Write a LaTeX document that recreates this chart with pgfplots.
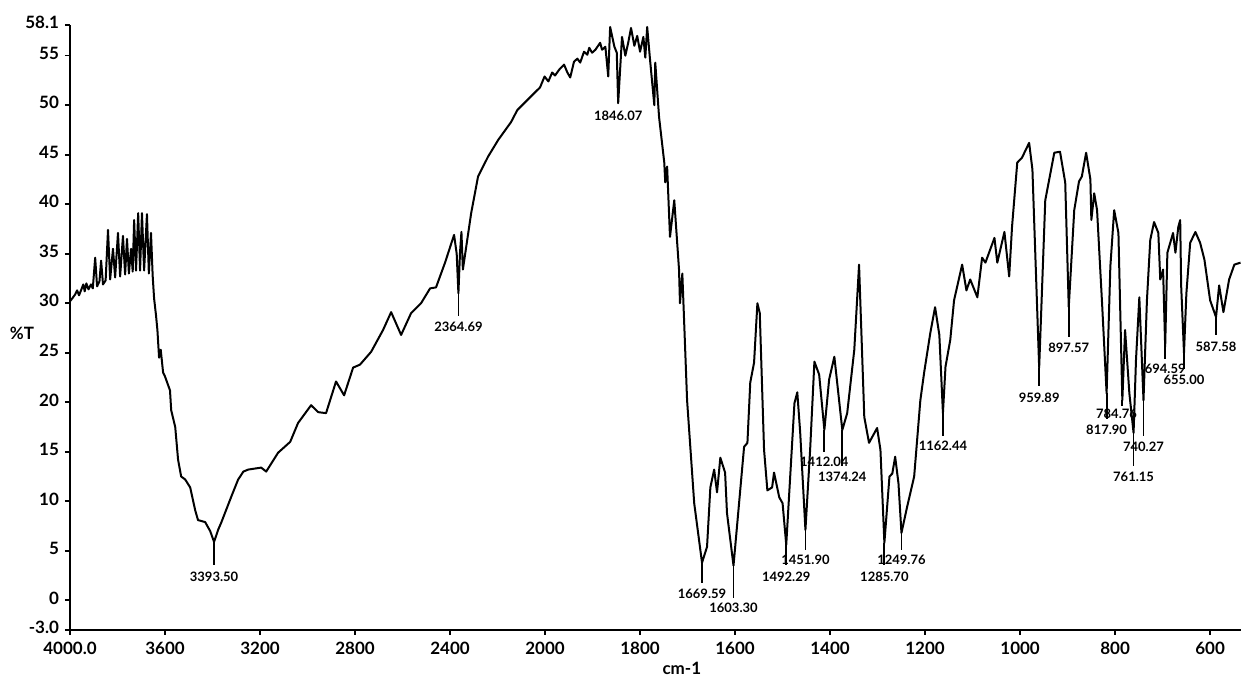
\documentclass[border=0pt]{standalone}
\usepackage{fontspec}
\setmainfont{Lato}
\usepackage{pgfplots}
\usepackage{pgfplotstable}
\pgfplotsset{compat=1.18}
\tikzset{lbl/.style={font=\bfseries\fontsize{6.5}{7}\selectfont, inner sep=0pt}}

\pgfplotstableread{
wn T
4000 30.2
3990 30.5
3978 30.9
3970 31.3
3962 30.8
3952 31.4
3944 31.9
3938 31.2
3931 32.0
3922 31.4
3912 31.9
3904 31.5
3894 34.6
3886 31.7
3876 32.2
3869 34.3
3861 31.9
3850 32.3
3840 37.4
3831 32.4
3819 35.5
3810 32.6
3798 37.1
3789 32.7
3777 36.8
3768 32.9
3760 36.5
3752 33.0
3743 35.5
3736 33.2
3730 38.4
3722 33.3
3713 39.1
3705 33.3
3697 39.1
3688 33.3
3676 39.0
3668 33.0
3659 37.1
3652 32.8
3646 30.5
3638 28.8
3632 27.3
3625 24.5
3618 25.3
3608 23.0
3600 22.6
3579 21.2
3574 19.2
3557 17.5
3545 14.2
3532 12.5
3515 12.2
3494 11.4
3473 9.1
3461 8.1
3431 7.9
3410 7.0
3393.5 5.9
3375 7.2
3364 7.8
3322 10.4
3292 12.2
3270 13.0
3250 13.2
3195 13.4
3174 13.0
3124 14.9
3073 16.0
3040 17.9
2985 19.7
2955 19.0
2922 18.9
2880 22.1
2846 20.7
2808 23.5
2779 23.8
2732 25.1
2682 27.3
2648 29.1
2606 26.8
2564 29.0
2522 30.0
2484 31.5
2459 31.6
2421 34.1
2383 36.9
2372 35.0
2364.69 31.0
2358 35.1
2352 37.2
2346 33.4
2311 39.1
2282 42.8
2240 44.8
2197 46.5
2143 48.3
2117 49.5
2063 50.8
2021 51.8
2002 52.9
1993 52.4
1985 53.3
1979 53.0
1970 53.6
1960 54.1
1953 53.3
1947 52.8
1939 54.4
1932 54.7
1926 54.3
1918 55.4
1911 55.1
1907 55.8
1901 55.3
1894 55.6
1884 56.3
1880 55.6
1873 55.9
1867 52.9
1863 57.9
1854 55.9
1849 55.3
1846.07 50.2
1838 56.9
1831 55.0
1825 56.3
1819 57.8
1812 56.0
1806 57.0
1800 55.4
1793 56.9
1789 54.8
1785 57.9
1779 54.6
1770 50.0
1768 54.3
1760 48.8
1749 44.2
1747 42.2
1743 43.8
1737 36.7
1728 40.4
1718 33.4
1716 30.0
1711 33.0
1701 20.2
1686 9.8
1669.59 3.8
1659 5.4
1652 11.4
1644 13.2
1638 10.9
1631 14.4
1621 12.9
1617 8.8
1603.3 3.5
1581 15.5
1574 15.9
1568 22.0
1560 24.0
1553 30.0
1548 29.0
1539 15.2
1532 11.1
1522 11.4
1518 12.9
1507 10.4
1500 9.8
1492.29 5.6
1475 19.9
1469 21.0
1463 17.0
1451.9 7.1
1442 15.2
1433 24.1
1423 22.8
1412.04 17.2
1402 22.3
1391 24.6
1374.24 17.2
1364 18.9
1349 25.3
1339 33.9
1328 18.5
1318 15.9
1301 17.4
1294 15.2
1285.7 5.8
1275 12.5
1269 12.8
1263 14.5
1256 11.8
1249.76 6.8
1238 9.4
1223 12.5
1210 20.2
1202 23.0
1189 27.0
1179 29.6
1170 26.8
1162.44 18.9
1157 23.6
1147 26.3
1139 30.3
1122 33.9
1113 31.3
1105 32.4
1090 30.6
1080 34.6
1073 34.1
1054 36.6
1048 34.1
1033 37.2
1023 32.7
1017 37.7
1006 44.2
996 44.7
981 46.2
974 43.5
959.89 23.5
947 40.4
928 45.2
916 45.3
905 42.2
897.57 29.6
886 39.4
876 42.3
870 42.8
861 45.2
852 42.5
850 38.4
844 41.1
838 39.4
827 29.6
817.9 20.9
810 33.7
802 39.4
793 37.1
784.76 20.2
779 27.3
770 20.9
761.15 16.9
756 24.3
749 30.6
740.27 20.2
733 30.3
726 36.4
718 38.2
709 37.1
705 32.4
699 33.4
694.59 25.6
690 35.1
684 36.1
678 37.1
673 35.1
667 37.7
663 38.4
661 31.8
655 25.0
650 31.0
642 36.1
631 37.2
621 36.1
612 34.4
600 30.3
587.58 28.6
581 31.8
572 29.1
560 32.4
549 33.9
536 34.1
}\spectrum

\begin{document}
\begin{tikzpicture}
\path[use as bounding box] (-35pt,-24.5pt) rectangle (585.5pt,315pt);
\begin{axis}[
  at={(0,0)}, anchor=south west,
  scale only axis, width=585.5pt, height=302.5pt,
  xmin=4000, xmax=535, ymin=-3, ymax=58.1,
  x coord trafo/.code={\pgfmathparse{(4000-#1)/400+max(0,2000-#1)/400}},
  axis x line=bottom, axis y line=left,
  axis line style={-, line width=1pt, black},
  tick align=outside, major tick length=2.5pt,
  tick style={line width=0.8pt, black},
  clip=false,
  xtick={4000,3600,3200,2800,2400,2000,1800,1600,1400,1200,1000,800,600},
  xticklabels={\textbf{4000.0},\textbf{3600},\textbf{3200},\textbf{2800},\textbf{2400},\textbf{2000},\textbf{1800},\textbf{1600},\textbf{1400},\textbf{1200},\textbf{1000},\textbf{800},\textbf{600}},
  ytick={-3,0,5,10,15,20,25,30,35,40,45,50,55,58.1},
  yticklabels={\textbf{-3.0},\textbf{0},\textbf{5},\textbf{10},\textbf{15},\textbf{20},\textbf{25},\textbf{30},\textbf{35},\textbf{40},\textbf{45},\textbf{50},\textbf{55},\textbf{58.1}},
  tick label style={font=\fontsize{8.5}{9}\selectfont},
  yticklabel style={yshift=1.2pt, xshift=0.5pt},
]
\addplot[black, line width=1pt, line join=round] table[x=wn, y=T] {\spectrum};
\addplot[black, line width=0.9pt, unbounded coords=jump] coordinates {
(3393.5,5.9) (3393.5,3.6) (3393.5,nan)
(2364.69,31.0) (2364.69,28.7) (2364.69,nan)
(1669.59,3.8) (1669.59,1.7) (1669.59,nan)
(1603.3,3.5) (1603.3,0.2) (1603.3,nan)
(1492.29,5.6) (1492.29,3.6) (1492.29,nan)
(1451.9,7.1) (1451.9,5.1) (1451.9,nan)
(1412.04,17.2) (1412.04,15.0) (1412.04,nan)
(1374.24,17.2) (1374.24,13.6) (1374.24,nan)
(1285.7,5.8) (1285.7,3.6) (1285.7,nan)
(1249.76,6.8) (1249.76,5.1) (1249.76,nan)
(1162.44,18.9) (1162.44,16.6) (1162.44,nan)
(959.89,23.5) (959.89,21.6) (959.89,nan)
(897.57,29.6) (897.57,26.6) (897.57,nan)
(817.9,20.9) (817.9,18.3) (817.9,nan)
(784.76,20.2) (784.76,19.6) (784.76,nan)
(761.15,16.9) (761.15,13.6) (761.15,nan)
(740.27,20.2) (740.27,16.6) (740.27,nan)
(694.59,25.6) (694.59,24.4) (694.59,nan)
(655,25.0) (655,23.4) (655,nan)
(587.58,28.6) (587.58,26.8)
};
\node[lbl] at (axis cs:3393.5,2.4) {3393.50};
\node[lbl] at (axis cs:2364.69,27.6) {2364.69};
\node[lbl] at (axis cs:1846.07,48.9) {1846.07};
\node[lbl] at (axis cs:1669.59,0.7) {1669.59};
\node[lbl] at (axis cs:1603.3,-0.8) {1603.30};
\node[lbl] at (axis cs:1492.29,2.4) {1492.29};
\node[lbl] at (axis cs:1451.9,4.1) {1451.90};
\node[lbl] at (axis cs:1412.04,14.0) {1412.04};
\node[lbl] at (axis cs:1374.24,12.5) {1374.24};
\node[lbl] at (axis cs:1285.7,2.4) {1285.70};
\node[lbl] at (axis cs:1249.76,4.1) {1249.76};
\node[lbl] at (axis cs:1162.44,15.6) {1162.44};
\node[lbl] at (axis cs:959.89,20.5) {959.89};
\node[lbl] at (axis cs:897.57,25.5) {897.57};
\node[lbl] at (axis cs:817.9,17.2) {817.90};
\node[lbl] at (axis cs:797,18.8) {784.76};
\node[lbl] at (axis cs:761.15,12.5) {761.15};
\node[lbl] at (axis cs:740.27,15.5) {740.27};
\node[lbl] at (axis cs:694.59,23.4) {694.59};
\node[lbl] at (axis cs:655,22.3) {655.00};
\node[lbl] at (axis cs:587.58,25.6) {587.58};
\node[font=\bfseries\fontsize{8.5}{9}\selectfont] at ([xshift=-24pt]rel axis cs:0,0.49) {\%T};
\node[font=\bfseries\fontsize{8.5}{9}\selectfont] at ([yshift=-19pt]axis cs:1712,-3) {cm-1};
\end{axis}
\end{tikzpicture}
\end{document}
